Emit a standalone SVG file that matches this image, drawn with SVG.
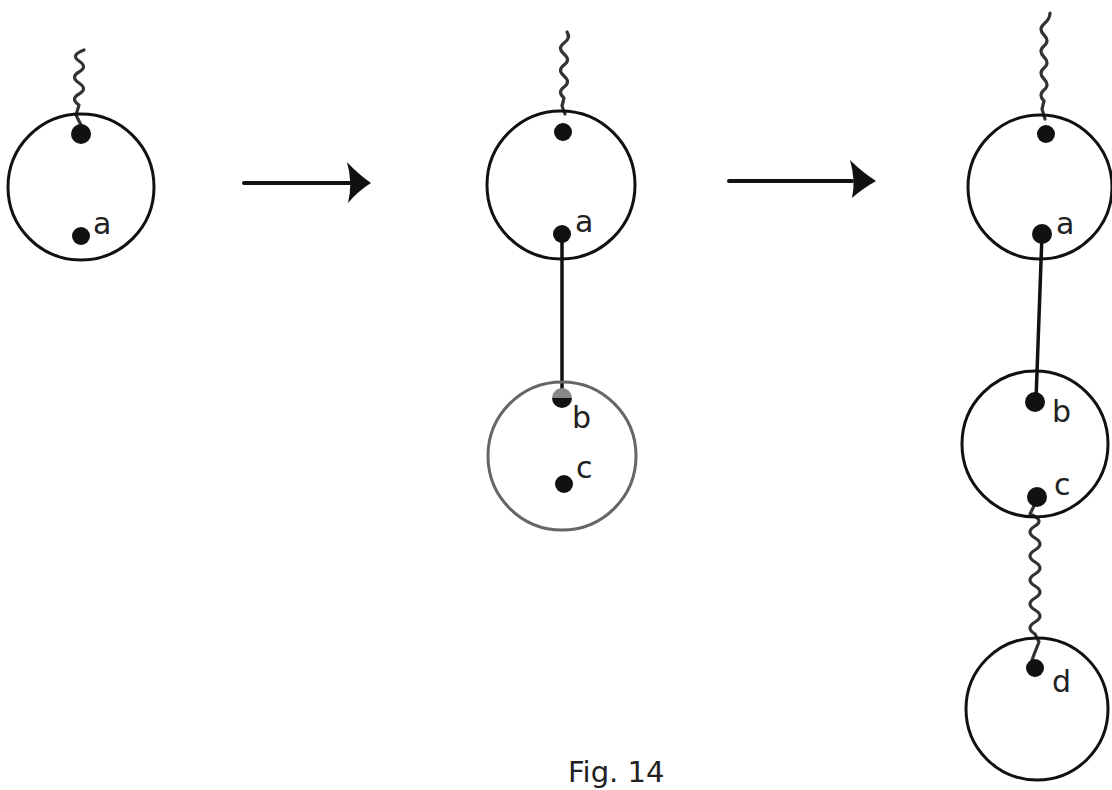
<svg xmlns="http://www.w3.org/2000/svg" width="1112" height="790" viewBox="0 0 1112 790">
<style>
.cell{fill:none;stroke:#111;stroke-width:3}
.cell.light{stroke:#666}
.dot{fill:#111}
.wave{fill:none;stroke:#333;stroke-width:3.2;stroke-linecap:round;stroke-linejoin:round}
.bond{fill:none;stroke:#111;stroke-width:3.5;stroke-linecap:round}
.arr{fill:none;stroke:#111;stroke-width:4;stroke-linecap:round}
.head{fill:#111}
.lbl{font-family:"DejaVu Sans",sans-serif;font-size:30px;fill:#222}
.cap{font-family:"DejaVu Sans",sans-serif;font-size:29px;fill:#222}
</style>
<rect width="1112" height="790" fill="#fff"/>
<g id="connectors">
  <path class="wave" d="M84,50 q-14,5 -5,11 t0,11 t0,11 t0,11 t0,11 l-3,10 l5,10"/>
  <path class="wave" d="M567,32 q4,6 -3,11 t0,11 t0,11 t0,11 t0,11 t0,11 l-2,8 l3,8"/>
  <path class="wave" d="M1050,13 q0,6 -6,11 t0,11 t0,11 t0,11 t0,11 t0,11 t0,11 t0,11 l-2,8 l3,10"/>
  <path class="wave" d="M1037,500 l-7,14 q15,6 5,12 t0,12 t0,12 t0,12 t0,12 t0,12 t0,12 t0,12 t0,12 t0,12 l4,8 l-4,10 l-3,8"/>
  <path class="bond" d="M562,236 L562,398"/>
  <path class="bond" d="M1042,234 L1036,400"/>
  <path class="arr" d="M244,183 L352,183"/>
  <path class="head" d="M347,162 Q358,174 371,183 Q358,191 348,203 Q353,183 347,162 Z"/>
  <path class="arr" d="M729,181 L852,181"/>
  <path class="head" d="M850,160 Q862,172 876,181 Q862,189 852,198 Q856,181 850,160 Z"/>
</g>
<g id="cell1">
  <circle class="cell" cx="81" cy="187" r="73"/>
  <circle class="dot" cx="81" cy="134" r="10"/>
  <circle class="dot" cx="81" cy="236" r="9"/>
  <text class="lbl" x="93" y="234">a</text>
</g>
<g id="cell2">
  <circle class="cell" cx="561" cy="185" r="74"/>
  <circle class="dot" cx="563" cy="132" r="9"/>
  <circle class="dot" cx="562" cy="234" r="9"/>
  <text class="lbl" x="575" y="232">a</text>
</g>
<g id="cell3">
  <circle class="cell light" cx="562" cy="456" r="74"/>
  <path d="M552,398 a10,10 0 0 1 20,0 z" fill="#888"/>
  <path d="M552,398 a10,10 0 0 0 20,0 z" fill="#111"/>
  <text class="lbl" x="572" y="428">b</text>
  <circle class="dot" cx="564" cy="484" r="9"/>
  <text class="lbl" x="576" y="478">c</text>
</g>
<g id="cell4">
  <circle class="cell" cx="1040" cy="187" r="72"/>
  <circle class="dot" cx="1046" cy="134" r="9"/>
  <circle class="dot" cx="1042" cy="234" r="10"/>
  <text class="lbl" x="1056" y="234">a</text>
</g>
<g id="cell5">
  <circle class="cell" cx="1035" cy="444" r="73"/>
  <circle class="dot" cx="1035" cy="402" r="10"/>
  <text class="lbl" x="1052" y="422">b</text>
  <circle class="dot" cx="1037" cy="497" r="10"/>
  <text class="lbl" x="1054" y="495">c</text>
</g>
<g id="cell6">
  <circle class="cell" cx="1037" cy="709" r="71"/>
  <circle class="dot" cx="1035" cy="668" r="9"/>
  <text class="lbl" x="1052" y="692">d</text>
</g>
<text class="cap" x="568" y="782">Fig. 14</text>
</svg>
